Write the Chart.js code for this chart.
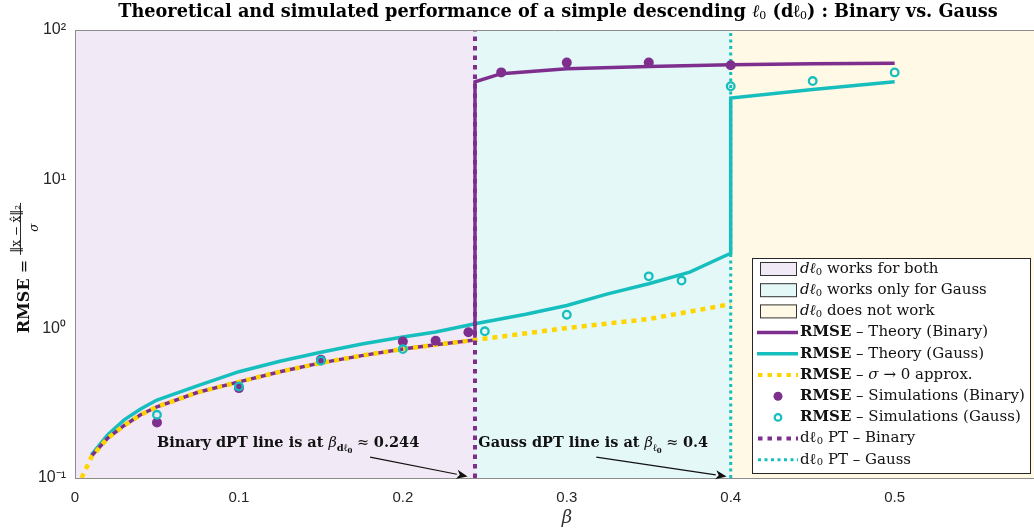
<!DOCTYPE html>
<html>
<head>
<meta charset="utf-8">
<script src="https://cdn.jsdelivr.net/npm/chart.js@4/dist/chart.umd.min.js"></script>
<style>body{margin:0;background:#fff}</style>
</head>
<body>
<canvas id="myChart" width="1034" height="531"></canvas>
<script>
"use strict";

// axes
const betaTicks = [0, 0.1, 0.2, 0.3, 0.4, 0.5];
const betaTickLabels = ["0", "0.1", "0.2", "0.3", "0.4", "0.5"];
const rmseTicks = [0.1, 1, 10, 100];
const rmseTickLabels = ["10\u207B\u00B9", "10\u2070", "10\u00B9", "10\u00B2"];

// regions: works for both / only Gauss / does not work
const regionEdges = [0, 0.244, 0.4, 0.6];

// theory curves
const theoryBinBeta = [0.01, 0.02, 0.03, 0.04, 0.05, 0.075, 0.1, 0.125, 0.15, 0.175, 0.2, 0.22, 0.244, 0.244, 0.26, 0.3, 0.35, 0.4, 0.45, 0.5];
const theoryBinRmse = [0.14, 0.185, 0.225, 0.265, 0.3, 0.375, 0.44, 0.515, 0.59, 0.66, 0.73, 0.78, 0.84, 45, 51, 55, 57, 58.5, 59.5, 60];
const theoryGaussBeta = [0.01, 0.02, 0.03, 0.04, 0.05, 0.075, 0.1, 0.125, 0.15, 0.175, 0.2, 0.22, 0.244, 0.275, 0.3, 0.325, 0.35, 0.375, 0.4, 0.4, 0.45, 0.5];
const theoryGaussRmse = [0.143, 0.195, 0.245, 0.29, 0.333, 0.415, 0.515, 0.605, 0.695, 0.79, 0.88, 0.95, 1.08, 1.25, 1.43, 1.71, 2.0, 2.39, 3.2, 35, 40, 45];
const approxBeta = [0.004, 0.01, 0.02, 0.03, 0.04, 0.05, 0.075, 0.1, 0.125, 0.15, 0.175, 0.2, 0.22, 0.244, 0.3, 0.35, 0.4];
const approxRmse = [0.1, 0.138, 0.185, 0.225, 0.265, 0.3, 0.375, 0.44, 0.515, 0.59, 0.66, 0.73, 0.78, 0.84, 1.01, 1.16, 1.46];

// simulations
const simBinBeta = [0.05, 0.1, 0.15, 0.2, 0.22, 0.24, 0.26, 0.3, 0.35, 0.4];
const simBinRmse = [0.235, 0.4, 0.62, 0.82, 0.83, 0.945, 52, 60.5, 60.5, 58];
const simGaussBeta = [0.05, 0.1, 0.15, 0.2, 0.25, 0.3, 0.35, 0.37, 0.4, 0.45, 0.5];
const simGaussRmse = [0.265, 0.41, 0.61, 0.73, 0.96, 1.24, 2.24, 2.1, 42, 45.5, 52];

// phase transitions
const ptBin = 0.244;
const ptGauss = 0.4;

const purple = "#7E2F8E";
const cyan = "#17BEBE";
const yellow = "#FFD500";
const regionColors = ["#F1E9F5", "#E4F8F8", "#FFF9E5"];

const serif = '"DejaVu Serif", "Liberation Serif", serif';
const sans = '"Liberation Sans", Arial, sans-serif';

function pts(xs, ys) {
  return xs.map((x, i) => ({ x: x, y: ys[i] }));
}

function richWidth(ctx, segs) {
  let w = 0;
  for (const s of segs) { ctx.font = s.f; w += ctx.measureText(s.t).width; }
  return w;
}
function drawRich(ctx, segs, x, y, align) {
  const w = richWidth(ctx, segs);
  if (align === "center") x -= w / 2;
  if (align === "right") x -= w;
  for (const s of segs) {
    ctx.font = s.f;
    ctx.fillText(s.t, x, y + (s.dy || 0));
    x += ctx.measureText(s.t).width;
  }
}

function arrow(ctx, x0, y0, x1, y1) {
  const a = Math.atan2(y1 - y0, x1 - x0);
  const L = 11, W = 4.5;
  const bx = x1 - L * Math.cos(a), by = y1 - L * Math.sin(a);
  ctx.beginPath();
  ctx.moveTo(x0, y0);
  ctx.lineTo(bx, by);
  ctx.stroke();
  ctx.beginPath();
  ctx.moveTo(x1, y1);
  ctx.lineTo(bx + W * Math.sin(a), by - W * Math.cos(a));
  ctx.lineTo(bx + 3 * Math.cos(a), by + 3 * Math.sin(a));
  ctx.lineTo(bx - W * Math.sin(a), by + W * Math.cos(a));
  ctx.closePath();
  ctx.fill();
}

const L15 = "15px " + serif, B15 = "bold 15px " + serif, I15 = "italic 15px " + serif, S10 = "10px " + serif;
const legendItems = [
  { kind: "patch", color: regionColors[0], label: [{ t: "d\u2113", f: I15 }, { t: "0", f: S10, dy: 3 }, { t: " works for both", f: L15 }] },
  { kind: "patch", color: regionColors[1], label: [{ t: "d\u2113", f: I15 }, { t: "0", f: S10, dy: 3 }, { t: " works only for Gauss", f: L15 }] },
  { kind: "patch", color: regionColors[2], label: [{ t: "d\u2113", f: I15 }, { t: "0", f: S10, dy: 3 }, { t: " does not work", f: L15 }] },
  { kind: "line", color: purple, label: [{ t: "RMSE", f: B15 }, { t: " \u2013 Theory (Binary)", f: L15 }] },
  { kind: "line", color: cyan, label: [{ t: "RMSE", f: B15 }, { t: " \u2013 Theory (Gauss)", f: L15 }] },
  { kind: "dash", color: yellow, label: [{ t: "RMSE", f: B15 }, { t: " \u2013 ", f: L15 }, { t: "\u03C3", f: I15 }, { t: " \u2192 0 approx.", f: L15 }] },
  { kind: "dot", color: purple, label: [{ t: "RMSE", f: B15 }, { t: " \u2013 Simulations (Binary)", f: L15 }] },
  { kind: "ring", color: cyan, label: [{ t: "RMSE", f: B15 }, { t: " \u2013 Simulations (Gauss)", f: L15 }] },
  { kind: "dash", color: purple, label: [{ t: "d\u2113", f: L15 }, { t: "0", f: S10, dy: 3 }, { t: " PT \u2013 Binary", f: L15 }] },
  { kind: "dash2", color: cyan, label: [{ t: "d\u2113", f: L15 }, { t: "0", f: S10, dy: 3 }, { t: " PT \u2013 Gauss", f: L15 }] },
];

const decorPlugin = {
  id: "decor",
  beforeDraw(chart) {
    const { ctx, chartArea: a, scales: { x } } = chart;
    ctx.save();
    for (let i = 0; i < regionColors.length; i++) {
      const x0 = Math.max(a.left, x.getPixelForValue(regionEdges[i]));
      const x1 = Math.min(a.right, x.getPixelForValue(regionEdges[i + 1]));
      ctx.fillStyle = regionColors[i];
      ctx.fillRect(x0, a.top, x1 - x0, a.bottom - a.top);
    }
    ctx.restore();
  },
  afterDatasetsDraw(chart) {
    const { ctx, chartArea: a, scales: { x, y } } = chart;
    ctx.save();
    // top border
    ctx.strokeStyle = "#8c8c8c";
    ctx.lineWidth = 1;
    ctx.beginPath();
    ctx.moveTo(a.left, a.top + 0.5);
    ctx.lineTo(a.right, a.top + 0.5);
    ctx.stroke();

    // annotations
    ctx.fillStyle = "#111";
    ctx.strokeStyle = "#111";
    ctx.lineWidth = 1.2;
    ctx.textBaseline = "alphabetic";
    const B16 = "bold 14.5px " + serif, I16 = "italic 14.5px " + serif, N16 = "14.5px " + serif, SB = "bold 10px " + serif;
    drawRich(ctx, [
      { t: "Binary dPT line is at ", f: B16 }, { t: "\u03B2", f: I16 },
      { t: "d\u2113", f: SB, dy: 4 }, { t: "0", f: "bold 7px " + serif, dy: 6 },
      { t: " \u2248 ", f: N16 }, { t: "0.244", f: B16 }
    ], x.getPixelForValue(0.21), y.getPixelForValue(0.161), "right");
    drawRich(ctx, [
      { t: "Gauss dPT line is at ", f: B16 }, { t: "\u03B2", f: I16 },
      { t: "\u2113", f: SB, dy: 4 }, { t: "0", f: "bold 7px " + serif, dy: 6 },
      { t: " \u2248 ", f: N16 }, { t: "0.4", f: B16 }
    ], x.getPixelForValue(0.246), y.getPixelForValue(0.161), "left");
    arrow(ctx, x.getPixelForValue(0.18), y.getPixelForValue(0.138), x.getPixelForValue(0.2395), y.getPixelForValue(0.1025));
    arrow(ctx, x.getPixelForValue(0.318), y.getPixelForValue(0.138), x.getPixelForValue(0.3975), y.getPixelForValue(0.1025));
    ctx.restore();
  },
  afterDraw(chart) {
    const { ctx } = chart;
    ctx.save();
    // title
    ctx.fillStyle = "#000";
    ctx.textBaseline = "middle";
    const TB = "bold 17.7px " + serif;
    drawRich(ctx, [
      { t: "Theoretical and simulated performance of a simple descending ", f: TB },
      { t: "\u2113", f: "italic 17.7px " + serif }, { t: "0", f: "11px " + serif, dy: 4 },
      { t: " (d\u2113", f: TB }, { t: "0", f: "11px " + serif, dy: 4 },
      { t: ") : Binary vs. Gauss", f: TB }
    ], 558, 12, "center");

    // x label
    ctx.fillStyle = "#333";
    ctx.font = "italic 18px " + serif;
    ctx.textAlign = "center";
    ctx.fillText("\u03B2", 567, 518);
    ctx.textAlign = "left";

    // y label
    ctx.translate(25, 268);
    ctx.rotate(-Math.PI / 2);
    ctx.fillStyle = "#111";
    const yl = [{ t: "RMSE", f: "bold 16px " + serif }, { t: " = ", f: "16px " + serif }];
    const w0 = richWidth(ctx, yl);
    ctx.font = "12px " + serif;
    const num = "\u2016x \u2212 x\u0302\u2016\u2082";
    const wn = ctx.measureText(num).width + 4;
    let sx = -(w0 + wn) / 2;
    drawRich(ctx, yl, sx, 0, "left");
    sx += w0;
    ctx.font = "12px " + serif;
    ctx.fillText(num, sx + 2, -8);
    ctx.font = "italic 12px " + serif;
    ctx.fillText("\u03C3", sx + wn / 2 - 3, 10);
    ctx.fillRect(sx, -5, wn, 0.9);
    ctx.setTransform(1, 0, 0, 1, 0, 0);

    // legend
    const lx = 752, ly = 258, lw = 278, lh = 215, rowH = 21.2;
    ctx.fillStyle = "#fff";
    ctx.fillRect(lx, ly, lw, lh);
    ctx.strokeStyle = "#262626";
    ctx.lineWidth = 1;
    ctx.strokeRect(lx + 0.5, ly + 0.5, lw, lh);
    legendItems.forEach((it, i) => {
      const cy = ly + 11 + i * rowH;
      ctx.setLineDash([]);
      if (it.kind === "patch") {
        ctx.fillStyle = it.color;
        ctx.fillRect(760, cy - 7, 36, 14);
        ctx.strokeStyle = "#333";
        ctx.lineWidth = 1;
        ctx.strokeRect(760.5, cy - 6.5, 36, 13);
      } else if (it.kind === "line") {
        ctx.strokeStyle = it.color;
        ctx.lineWidth = 3.5;
        ctx.beginPath(); ctx.moveTo(757, cy); ctx.lineTo(798, cy); ctx.stroke();
      } else if (it.kind === "dash" || it.kind === "dash2") {
        ctx.strokeStyle = it.color;
        ctx.lineWidth = it.kind === "dash" ? 4 : 3;
        ctx.setLineDash(it.kind === "dash" ? [4.5, 5] : [3, 3.5]);
        ctx.beginPath(); ctx.moveTo(758, cy); ctx.lineTo(798, cy); ctx.stroke();
        ctx.setLineDash([]);
      } else if (it.kind === "dot") {
        ctx.fillStyle = it.color;
        ctx.beginPath(); ctx.arc(778, cy, 4.5, 0, 2 * Math.PI); ctx.fill();
      } else if (it.kind === "ring") {
        ctx.strokeStyle = it.color;
        ctx.lineWidth = 2.2;
        ctx.beginPath(); ctx.arc(778, cy, 3.3, 0, 2 * Math.PI); ctx.stroke();
      }
      ctx.fillStyle = "#111";
      ctx.textBaseline = "middle";
      drawRich(ctx, it.label, 800, cy, "left");
    });
    ctx.restore();
  }
};

const lineDefaults = { showLine: true, pointRadius: 0, fill: false, tension: 0 };

const chart = new Chart(document.getElementById("myChart"), {
  type: "scatter",
  data: {
    datasets: [
      Object.assign({ label: "Theory (Gauss)", data: pts(theoryGaussBeta, theoryGaussRmse), borderColor: cyan, borderWidth: 3.5, order: 9 }, lineDefaults),
      Object.assign({ label: "Theory (Binary)", data: pts(theoryBinBeta, theoryBinRmse), borderColor: purple, borderWidth: 3.5, order: 8 }, lineDefaults),
      Object.assign({ label: "sigma -> 0 approx.", data: pts(approxBeta, approxRmse), borderColor: yellow, borderWidth: 4.5, borderDash: [5, 5], order: 7 }, lineDefaults),
      Object.assign({ label: "PT Binary", data: pts([ptBin, ptBin], [0.1, 100]), borderColor: purple, borderWidth: 4, borderDash: [4.5, 5], order: 6 }, lineDefaults),
      Object.assign({ label: "PT Gauss", data: pts([ptGauss, ptGauss], [0.1, 100]), borderColor: cyan, borderWidth: 3, borderDash: [3, 3.5], order: 5 }, lineDefaults),
      { label: "Simulations (Binary)", data: pts(simBinBeta, simBinRmse), pointRadius: 5, backgroundColor: purple, borderColor: purple, borderWidth: 0, order: 2 },
      { label: "Simulations (Gauss)", data: pts(simGaussBeta, simGaussRmse), pointRadius: 3.8, backgroundColor: "rgba(0,0,0,0)", borderColor: cyan, borderWidth: 2.3, order: 1 },
    ],
  },
  options: {
    responsive: false,
    animation: false,
    layout: { autoPadding: false, padding: { top: 30, right: 0, left: 0, bottom: 0 } },
    plugins: { legend: { display: false }, tooltip: { enabled: false } },
    scales: {
      x: {
        type: "linear",
        min: 0,
        max: 0.585,
        afterBuildTicks: (s) => { s.ticks = betaTicks.map((v) => ({ value: v })); },
        afterFit: (s) => { s.height = 53; s.paddingLeft = 0; s.paddingRight = 0; },
        grid: { display: false, drawTicks: false },
        border: { color: "#8c8c8c", width: 1 },
        ticks: {
          padding: 11,
          color: "#262626",
          font: { family: sans, size: 15 },
          callback: (v) => betaTickLabels[betaTicks.indexOf(v)] ?? "",
        },
      },
      y: {
        type: "logarithmic",
        min: 0.1,
        max: 100,
        afterBuildTicks: (s) => { s.ticks = rmseTicks.map((v) => ({ value: v })); },
        afterFit: (s) => { s.width = 75; s.paddingTop = 0; s.paddingBottom = 0; },
        grid: { display: false, drawTicks: false },
        border: { color: "#8c8c8c", width: 1 },
        ticks: {
          padding: 9,
          color: "#262626",
          font: { family: sans, size: 16 },
          callback: (v) => rmseTickLabels[rmseTicks.indexOf(v)] ?? "",
        },
      },
    },
  },
  plugins: [decorPlugin],
});
</script>
</body>
</html>
